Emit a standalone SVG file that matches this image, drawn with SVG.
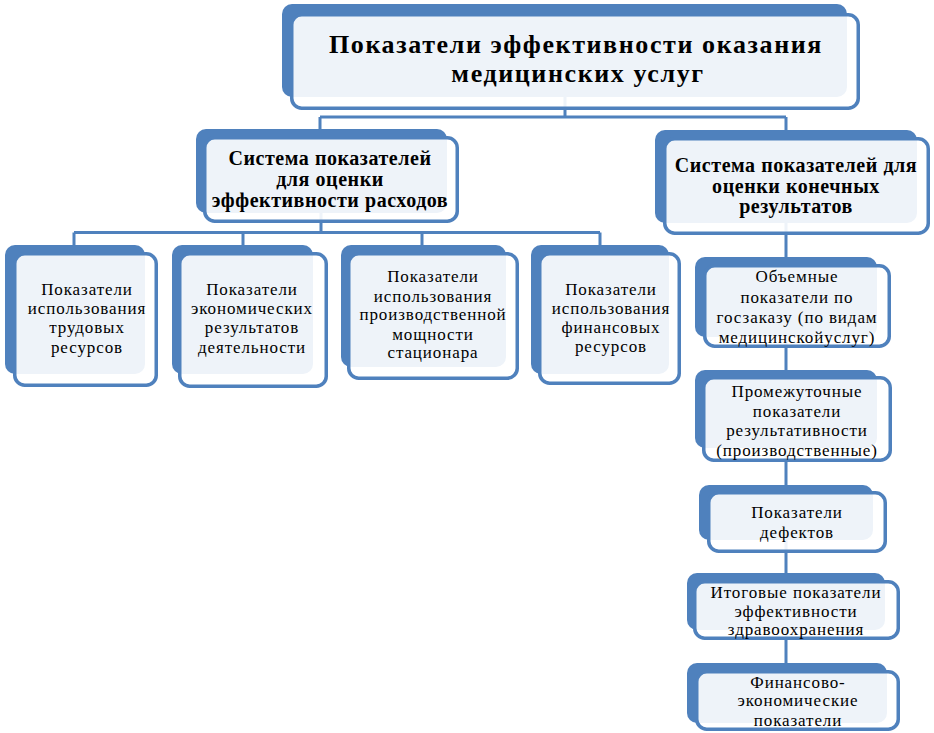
<svg xmlns="http://www.w3.org/2000/svg" width="934" height="733" viewBox="0 0 934 733">
<style>
.back{fill:#4F81BD;}
.front{fill:#FFFFFF;fill-opacity:0.9;stroke:#4F81BD;stroke-width:3.5;}
.conn{fill:none;stroke:#4F81BD;stroke-width:3;}
text{font-family:"Liberation Serif","Times New Roman",serif;fill:#000;text-anchor:middle;}
.t1{font-size:26px;font-weight:bold;letter-spacing:1.6px;}
.t2{font-size:20px;font-weight:bold;letter-spacing:0.55px;}
.t3{font-size:17px;letter-spacing:0.9px;}
</style>
<rect width="934" height="733" fill="#FFFFFF"/>
<g id="connectors">
<path class="conn" d="M565,97 V117 M320,117 H786 M320,117 V129 M786,117 V130"/>
<path class="conn" d="M321,213 V232.5 M74,232.5 H600 M74,232.5 V245 M243,232.5 V245 M422,232.5 V245 M600,232.5 V245"/>
<path class="conn" d="M786,223 V257 M786,337 V370 M786,448 V485 M786,540 V573 M786,630 V663"/>
</g>
<g id="node-top">
<rect class="back" x="282" y="4" width="565" height="93" rx="10"/>
<rect class="front" x="291.75" y="14.75" width="566.5" height="93.5" rx="10"/>
<text class="t1" x="576" y="53">Показатели эффективности оказания</text>
<text class="t1" x="578" y="82">медицинских услуг</text>
</g>
<g id="node-costs">
<rect class="back" x="196" y="129" width="251" height="84" rx="10"/>
<rect class="front" x="204.75" y="137.75" width="252.5" height="83.5" rx="10"/>
<text class="t2" x="330" y="165">Система показателей</text>
<text class="t2" x="330" y="186">для оценки</text>
<text class="t2" x="330" y="207">эффективности расходов</text>
</g>
<g id="node-results">
<rect class="back" x="655" y="130" width="262" height="93" rx="10"/>
<rect class="front" x="664.75" y="138.75" width="263.5" height="94.5" rx="10"/>
<text class="t2" x="796" y="172">Система показателей для</text>
<text class="t2" x="796" y="193">оценки конечных</text>
<text class="t2" x="796" y="213">результатов</text>
</g>
<g id="node-labour">
<rect class="back" x="5" y="245" width="140" height="129" rx="10"/>
<rect class="front" x="14.75" y="253.75" width="141.5" height="131.5" rx="10"/>
<text class="t3" x="87" y="295">Показатели</text>
<text class="t3" x="87" y="314">использования</text>
<text class="t3" x="87" y="333">трудовых</text>
<text class="t3" x="87" y="353">ресурсов</text>
</g>
<g id="node-economic">
<rect class="back" x="172" y="245" width="141" height="129" rx="10"/>
<rect class="front" x="179.75" y="253.75" width="146.5" height="132.5" rx="10"/>
<text class="t3" x="252" y="295">Показатели</text>
<text class="t3" x="252" y="314">экономических</text>
<text class="t3" x="252" y="333">результатов</text>
<text class="t3" x="252" y="353">деятельности</text>
</g>
<g id="node-capacity">
<rect class="back" x="341" y="245" width="165" height="122" rx="10"/>
<rect class="front" x="348.75" y="253.75" width="168.5" height="124.5" rx="10"/>
<text class="t3" x="433" y="282">Показатели</text>
<text class="t3" x="433" y="302">использования</text>
<text class="t3" x="433" y="320">производственной</text>
<text class="t3" x="433" y="340">мощности</text>
<text class="t3" x="433" y="358">стационара</text>
</g>
<g id="node-financial">
<rect class="back" x="531" y="245" width="138" height="129" rx="10"/>
<rect class="front" x="539.75" y="253.75" width="139.5" height="129.5" rx="10"/>
<text class="t3" x="611" y="295">Показатели</text>
<text class="t3" x="611" y="314">использования</text>
<text class="t3" x="611" y="333">финансовых</text>
<text class="t3" x="611" y="352">ресурсов</text>
</g>
<g id="node-volume">
<rect class="back" x="695" y="257" width="182" height="80" rx="10"/>
<rect class="front" x="704.75" y="265.75" width="184.5" height="80.5" rx="10"/>
<text class="t3" x="797" y="282">Объемные</text>
<text class="t3" x="797" y="303">показатели по</text>
<text class="t3" x="797" y="323">госзаказу (по видам</text>
<text class="t3" x="797" y="343">медицинскойуслуг)</text>
</g>
<g id="node-intermediate">
<rect class="back" x="695" y="370" width="182" height="78" rx="10"/>
<rect class="front" x="703.75" y="377.75" width="186.5" height="82.5" rx="10"/>
<text class="t3" x="797" y="397">Промежуточные</text>
<text class="t3" x="797" y="416.5">показатели</text>
<text class="t3" x="797" y="436">результативности</text>
<text class="t3" x="797" y="455.5">(производственные)</text>
</g>
<g id="node-defects">
<rect class="back" x="699" y="485" width="174" height="55" rx="10"/>
<rect class="front" x="708.75" y="492.75" width="176.5" height="58.5" rx="10"/>
<text class="t3" x="797" y="518">Показатели</text>
<text class="t3" x="797" y="538">дефектов</text>
</g>
<g id="node-final">
<rect class="back" x="687" y="573" width="198" height="57" rx="10"/>
<rect class="front" x="694.75" y="581.75" width="203.5" height="56.5" rx="10"/>
<text class="t3" x="796" y="598">Итоговые показатели</text>
<text class="t3" x="796" y="616.5">эффективности</text>
<text class="t3" x="796" y="635">здравоохранения</text>
</g>
<g id="node-fin-econ">
<rect class="back" x="687" y="663" width="200" height="60" rx="10"/>
<rect class="front" x="696.75" y="671.75" width="201.5" height="57.5" rx="10"/>
<text class="t3" x="798" y="688">Финансово-</text>
<text class="t3" x="798" y="706">экономические</text>
<text class="t3" x="798" y="726">показатели</text>
</g>
</svg>
